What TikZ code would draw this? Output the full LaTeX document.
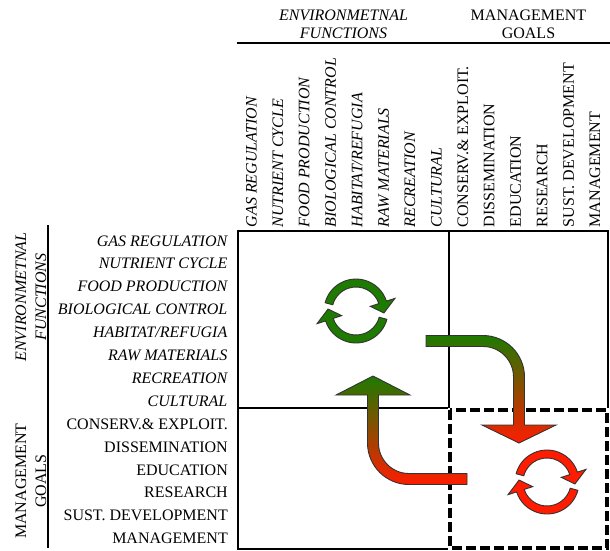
\documentclass[tikz,border=0pt]{standalone}
\usepackage{fontspec}
\setmainfont{Liberation Serif}
\definecolor{cgreen}{RGB}{30,122,0}
\definecolor{cred}{RGB}{255,28,0}
\definecolor{cmid}{RGB}{178,86,0}
\newcommand\cycarrows[3]{%
  \begin{scope}[shift={(#1,#2)}]
    \draw[arrowline, fill=#3] (165:32) arc[start angle=165, end angle=18, radius=32]
      -- (18:41) -- (-4:28) -- (18:15) -- (18:24)
      arc[start angle=18, end angle=165, radius=24] -- cycle;
    \draw[arrowline, fill=#3] (-15:32) arc[start angle=-15, end angle=-162, radius=32]
      -- (-162:41) -- (-184:28) -- (-162:15) -- (-162:24)
      arc[start angle=-162, end angle=-15, radius=24] -- cycle;
  \end{scope}}
\begin{document}
\begin{tikzpicture}[x=1pt, y=1pt,
  lbl/.style={font=\fontsize{16}{18}\selectfont, inner sep=0pt},
  ilbl/.style={font=\fontsize{16}{18}\selectfont\itshape, inner sep=0pt},
  gridline/.style={line width=2pt, black},
  dashbox/.style={line width=3.5pt, black, dash pattern=on 10pt off 4pt},
  arrowline/.style={draw=black!80, line width=0.9pt},
  bigarrow/.style={arrowline, top color=cgreen, middle color=cmid, bottom color=cred}]
\useasboundingbox (0,0) rectangle (610,-550);

% headers
\node[ilbl, align=center, font=\fontsize{16}{18}\selectfont\itshape] (hE) at (343.5,-24.2) {ENVIRONMETNAL\\FUNCTIONS};
\node[lbl, align=center] (hM) at (528.5,-24.2) {MANAGEMENT\\GOALS};
\node[ilbl, align=center, rotate=90, font=\fontsize{16}{20}\selectfont\itshape] (vE) at (30.9,-297) {ENVIRONMETNAL\\FUNCTIONS};
\node[lbl, align=center, rotate=90, font=\fontsize{16}{20}\selectfont] (vM) at (30.9,-481) {MANAGEMENT\\GOALS};

% row labels
\foreach \t [count=\i from 0] in {GAS REGULATION, NUTRIENT CYCLE, FOOD PRODUCTION, BIOLOGICAL CONTROL, HABITAT/REFUGIA, RAW MATERIALS, RECREATION, CULTURAL}
  \node[ilbl, anchor=base east] (r\i) at (227.5,{-(246+22.9*\i)}) {\t};
\foreach \t [count=\i from 8] in {CONSERV.\& EXPLOIT., DISSEMINATION, EDUCATION, RESEARCH, SUST. DEVELOPMENT, MANAGEMENT}
  \node[lbl, anchor=base east] (r\i) at (228,{-(246+22.9*\i)}) {\t};

% column labels
\foreach \t [count=\j from 0] in {GAS REGULATION, NUTRIENT CYCLE, FOOD PRODUCTION, BIOLOGICAL CONTROL, HABITAT/REFUGIA, RAW MATERIALS, RECREATION, CULTURAL}
  \node[ilbl, rotate=90, anchor=base west] (c\j) at ({238+26.43*(\j+0.5)+5.4},-227.5) {\t};
\foreach \t [count=\j from 8] in {CONSERV.\& EXPLOIT., DISSEMINATION, EDUCATION, RESEARCH, SUST. DEVELOPMENT, MANAGEMENT}
  \node[lbl, rotate=90, anchor=base west] (c\j) at ({238+26.43*(\j+0.5)+5.4},-227.5) {\t};

% lines
\draw[gridline] (236.5,-43) -- (610,-43);
\draw[gridline] (48,-225) -- (48,-548);
\draw[gridline] (238,-231) rectangle (608,-548.5);
\draw[gridline] (449,-231) -- (449,-408);
\draw[gridline] (238,-408) -- (449,-408);

% dashed box
\draw[line width=3.5pt, white] (450,-410) rectangle (607,-548);
\draw[dashbox] (450,-410) rectangle (607,-548);

% cycles
\cycarrows{356}{-311}{cgreen}
\cycarrows{547}{-482}{cred}

% big bent arrows
\shadedraw[bigarrow] (426,-335.5) -- (483,-335.5)
  arc[start angle=90, end angle=0, radius=41.5] -- (524.5,-425) -- (556,-425)
  -- (519,-443) -- (482,-425) -- (513.5,-425) -- (513.5,-377)
  arc[start angle=0, end angle=90, radius=30.5] -- (426,-346.5) -- cycle;
\shadedraw[bigarrow] (467,-484.5) -- (409,-484.5)
  arc[start angle=270, end angle=180, radius=41.5] -- (367.5,-395) -- (336,-395)
  -- (373,-376) -- (410,-395) -- (378.5,-395) -- (378.5,-443)
  arc[start angle=180, end angle=270, radius=30.5] -- (467,-473.5) -- cycle;
\end{tikzpicture}
\end{document}
